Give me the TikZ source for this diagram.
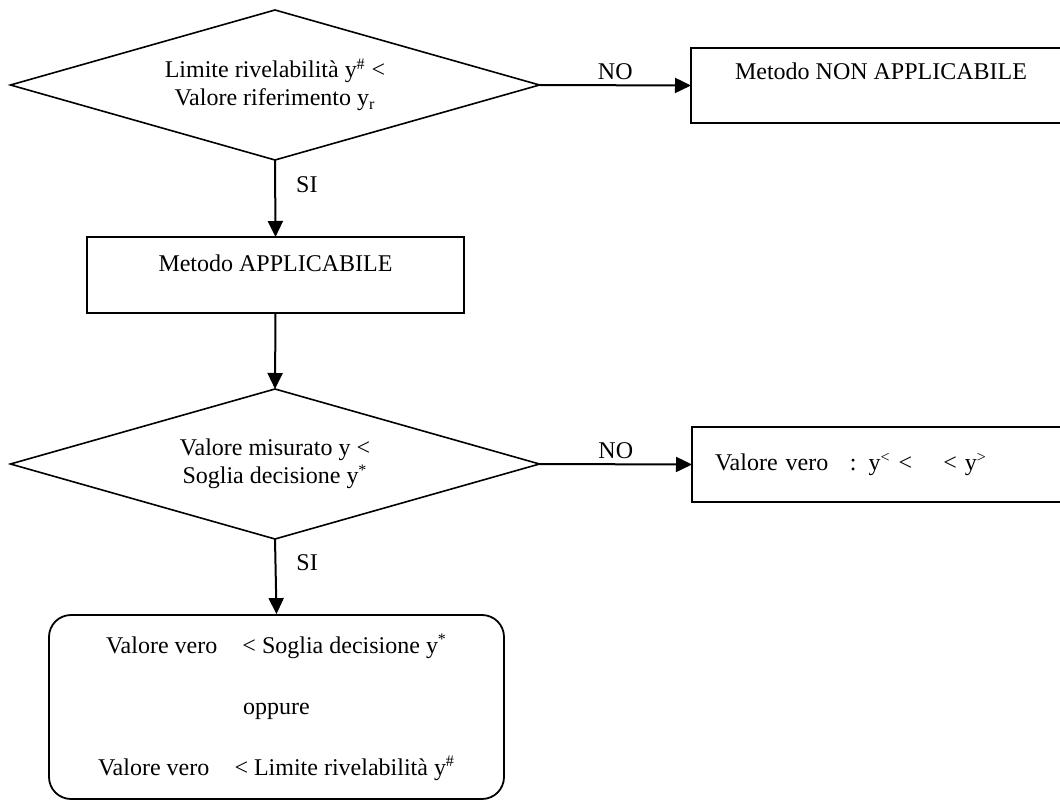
\documentclass[tikz,border=0pt]{standalone}
\usepackage{fontspec}
\setmainfont{Liberation Serif}
\usetikzlibrary{shapes.geometric,arrows.meta}

\begin{document}
\begin{tikzpicture}[x=0.5pt,y=-0.5pt,
  every node/.style={font=\fontsize{12}{14}\selectfont},
  test/.style={diamond,draw,line width=0.8pt,inner sep=0pt,outer sep=0pt,
    minimum width=264.5pt,minimum height=75pt,aspect=3.5,align=center},
  esito/.style={rectangle,draw,line width=0.9pt,inner ysep=0pt,outer sep=0pt},
  freccia/.style={line width=1pt,-{Triangle[length=8pt,width=7.5pt]}},
  risp/.style={inner sep=2.5pt}]
  \clip (0,0) rectangle (1060,802);
  % primo controllo
  \node[test] (lim) at (275,85) {Limite rivelabilità y\textsuperscript{\#} <\\Valore riferimento y\textsubscript{r}};
  \node[esito,anchor=west,inner xsep=22pt,minimum width=190pt,text height=16pt,text depth=21.5pt] (nonappl) at (691,85.5) {Metodo NON APPLICABILE};
  \node[esito,minimum width=188.5pt,text height=17pt,text depth=21pt] (appl) at (275.5,275) {Metodo APPLICABILE};
  % secondo controllo
  \node[test] (mis) at (275,464) {Valore misurato y <\\Soglia decisione y\textsuperscript{*}};
  \node[esito,anchor=west,inner xsep=11.5pt,text width=168pt,align=left,minimum height=37.5pt] (vero) at (692,464.5)
    {Valore vero\hspace{0.9em}: y\textsuperscript{<} <\hspace{1.3em}< y\textsuperscript{>}};
  \node[draw,line width=0.9pt,rounded corners=11pt,minimum width=227.5pt,minimum height=92pt,align=center] (fine) at (276.5,707)
    {Valore vero\hspace{0.8em} < Soglia decisione y\textsuperscript{*}\\[16.5pt]
     oppure\\[16.5pt]
     Valore vero\hspace{0.8em} < Limite rivelabilità y\textsuperscript{\#}};

  \draw[freccia] (lim.east) -- node[risp,above] (no1) {NO} (nonappl.west);
  \draw[freccia] (lim.south) -- node[risp,right,inner xsep=10pt,pos=0.32] (si1) {SI} (appl.north);
  \draw[freccia] (appl.south) -- (mis.north);
  \draw[freccia] (mis.east) -- node[risp,above] (no2) {NO} (vero.west);
  \draw[freccia] (mis.south) -- node[risp,right,inner xsep=10pt,pos=0.32] (si2) {SI} (fine.north);
\end{tikzpicture}
\end{document}
